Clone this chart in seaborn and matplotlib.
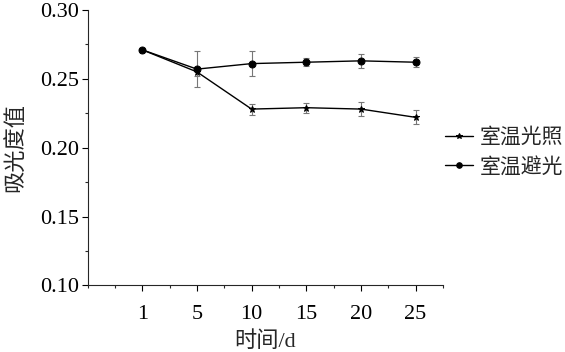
import matplotlib
matplotlib.use("Agg")
import matplotlib.pyplot as plt
from matplotlib.ticker import MultipleLocator
import seaborn as sns
import pandas as pd

days = ["1", "5", "10", "15", "20", "25"]
light = [0.271, 0.255, 0.228, 0.229, 0.228, 0.222]
light_err = [0.0, 0.003, 0.004, 0.0035, 0.0048, 0.005]
dark = [0.271, 0.257, 0.261, 0.262, 0.263, 0.262]
dark_err = [0.0, 0.0128, 0.009, 0.003, 0.005, 0.0035]
series_names = ["室温光照", "室温避光"]

sns.set_style("ticks")
plt.rcParams["font.family"] = ["Liberation Serif", "Noto Sans CJK SC"]
plt.rcParams["axes.unicode_minus"] = False

pos = list(range(1, len(days) + 1))
df = pd.DataFrame({
    "pos": pos * 2,
    "value": light + dark,
    "series": [series_names[0]] * len(days) + [series_names[1]] * len(days),
})

fig = plt.figure(figsize=(5.65, 3.52), dpi=100)
ax = fig.add_axes([0.155, 0.189, 0.629, 0.783])

ax.errorbar(pos, light, yerr=light_err, fmt="none", ecolor="#777777",
            elinewidth=0.8, capsize=2.5, capthick=0.8, zorder=1)
ax.errorbar(pos, dark, yerr=dark_err, fmt="none", ecolor="#777777",
            elinewidth=0.8, capsize=2.5, capthick=0.8, zorder=1)

sns.lineplot(data=df, x="pos", y="value", hue="series", style="series",
             markers={series_names[0]: "*", series_names[1]: "o"},
             dashes=False, palette=["black", "black"], linewidth=1.0,
             markersize=5, markeredgecolor="black", ax=ax, zorder=2)

ax.set_xlim(0, 6.5)
ax.set_ylim(0.10, 0.30)
ax.set_xticks(pos)
ax.set_xticklabels(days)
ax.xaxis.set_minor_locator(MultipleLocator(0.5))
ax.yaxis.set_major_locator(MultipleLocator(0.05))
ax.yaxis.set_minor_locator(MultipleLocator(0.025))
ax.yaxis.set_major_formatter(plt.FormatStrFormatter("%.2f"))

ax.tick_params(axis="both", which="major", labelsize=16, length=4, width=0.8,
               direction="out", colors="black")
ax.tick_params(axis="both", which="minor", length=2.5, width=0.8, direction="out")
ax.tick_params(axis="x", pad=10)
ax.tick_params(axis="y", pad=2)
for side in ["top", "right"]:
    ax.spines[side].set_visible(False)
for side in ["left", "bottom"]:
    ax.spines[side].set_linewidth(0.8)

ax.set_xlabel("时间/d", fontsize=16, labelpad=5)
ax.set_ylabel("吸光度值", fontsize=16, labelpad=10)

leg = ax.legend(title=None, frameon=False, fontsize=15, loc="center left",
                bbox_to_anchor=(0.787, 0.566), bbox_transform=fig.transFigure,
                handlelength=1.35, handletextpad=0.33, labelspacing=0.45,
                borderpad=0, borderaxespad=0)
for h in leg.legend_handles:
    h.set_markersize(4)

fig.savefig("out.png", dpi=100)
